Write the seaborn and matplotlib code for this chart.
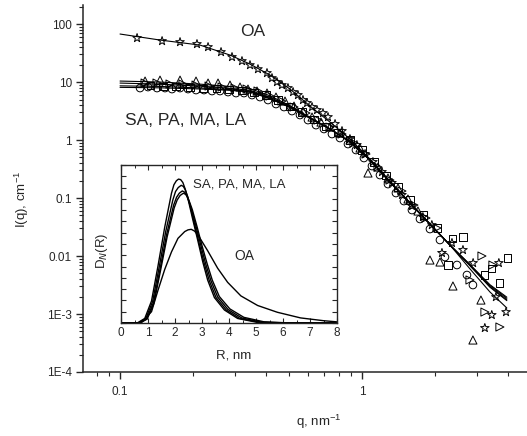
import matplotlib
import matplotlib.pyplot as plt
import seaborn as sns
from matplotlib.ticker import FixedLocator, FixedFormatter, LogLocator, NullFormatter, MultipleLocator

matplotlib.use('Agg')

# --- main panel: fitted curves, I(q) ---
q_fit = [0.1, 0.1463, 0.2141, 0.2848, 0.3445, 0.4168, 0.5041, 0.6098, 0.7376, 0.8922,
         1.079, 1.305, 1.579, 1.910, 2.310, 2.795, 3.380, 3.97]
fit_oa = [67.3, 53.0, 43.4, 29.2, 20.4, 13.2, 7.57, 3.85, 2.04, 1.04,
          0.47, 0.196, 0.082, 0.0356, 0.0155, 0.0060, 0.0024, 0.00127]
fit_sa = [10.4, 10.0, 9.2, 8.4, 7.7, 5.8, 3.9, 2.45, 1.56, 0.92,
          0.45, 0.186, 0.081, 0.035, 0.0154, 0.0071, 0.0032, 0.00195]
fit_pa = [9.6, 9.2, 8.5, 7.8, 7.2, 5.45, 3.78, 2.41, 1.55, 0.925,
          0.452, 0.188, 0.082, 0.0356, 0.0156, 0.0071, 0.0031, 0.00186]
fit_ma = [8.6, 8.4, 7.9, 7.4, 6.9, 5.2, 3.68, 2.39, 1.55, 0.93,
          0.455, 0.19, 0.083, 0.0358, 0.0155, 0.0069, 0.00298, 0.00176]
fit_la = [8.1, 7.95, 7.6, 7.2, 6.75, 5.15, 3.65, 2.38, 1.55, 0.93,
          0.455, 0.19, 0.083, 0.036, 0.0153, 0.0068, 0.0029, 0.0017]

# --- main panel: measured points ---
q_star = [0.1176, 0.1492, 0.177, 0.208, 0.2311, 0.2615, 0.2903, 0.3192, 0.3445, 0.3717,
          0.405, 0.4247, 0.4454, 0.467, 0.4944, 0.519, 0.5439, 0.5704, 0.593, 0.6218,
          0.652, 0.69, 0.7238, 0.774, 0.827, 0.892, 0.953, 1.03, 1.11, 1.21,
          1.33, 1.463, 1.609, 1.786, 1.945, 2.141, 2.355, 2.615, 2.88, 3.22,
          3.44, 3.578, 3.68, 3.94]
i_star = [57.4, 50.9, 48.9, 45.2, 40.1, 32.9, 27.0, 23.0, 19.6, 16.7,
          14.3, 11.7, 10.0, 8.87, 7.88, 6.72, 5.97, 4.90, 4.35, 3.71,
          3.29, 2.92, 2.49, 1.89, 1.43, 1.04, 0.82, 0.574, 0.418, 0.281,
          0.182, 0.113, 0.0728, 0.047, 0.0342, 0.0113, 0.0168, 0.0127, 0.00757, 0.000574,
          0.000961, 0.00196, 0.00757, 0.00108]

q_circle = [0.121, 0.1305, 0.1422, 0.1535, 0.164, 0.177, 0.191, 0.2061, 0.2224, 0.24,
            0.259, 0.2795, 0.3016, 0.3254, 0.3512, 0.3789, 0.4089, 0.4412, 0.4761, 0.5137,
            0.5544, 0.5983, 0.6456, 0.6966, 0.7516, 0.8112, 0.8754, 0.9445, 1.019, 1.1,
            1.187, 1.281, 1.382, 1.491, 1.609, 1.737, 1.91, 2.101, 2.203, 2.47,
            2.716, 2.875]
i_circle = [7.88, 8.20, 7.88, 7.88, 7.57, 7.88, 7.57, 7.28, 7.28, 7.00,
            7.00, 6.72, 6.46, 6.46, 5.97, 5.51, 4.90, 4.18, 3.71, 3.16,
            2.70, 2.21, 1.81, 1.55, 1.27, 1.083, 0.853, 0.673, 0.49, 0.356,
            0.249, 0.174, 0.122, 0.0887, 0.0621, 0.0435, 0.0292, 0.0189, 0.0096, 0.0070,
            0.0047, 0.00316]

q_tri = [0.1269, 0.1463, 0.177, 0.2061, 0.2311, 0.2541, 0.2848, 0.3133, 0.338, 0.3682,
         0.405, 0.4412, 0.4807, 0.5237, 0.5704, 0.6218, 0.677, 0.7376, 0.8112, 0.8922,
         0.9813, 1.059, 1.165, 1.281, 1.409, 1.549, 1.704, 1.91, 2.101, 2.377,
         2.875, 3.103]
i_tri = [10.4, 10.8, 10.8, 10.4, 9.61, 9.61, 8.87, 8.2, 7.57, 7.0,
         6.46, 5.51, 4.70, 3.85, 3.16, 2.49, 2.04, 1.67, 1.32, 1.0,
         0.728, 0.27, 0.342, 0.221, 0.149, 0.0962, 0.0597, 0.00853, 0.00788, 0.00304,
         0.000356, 0.00174]

q_square = [0.1331, 0.1505, 0.1704, 0.1947, 0.2203, 0.2494, 0.2821, 0.3192, 0.3578, 0.4012,
            0.4497, 0.5041, 0.5651, 0.6335, 0.71, 0.7959, 0.8922, 1.0, 1.121, 1.257,
            1.409, 1.579, 1.804, 2.061, 2.377, 2.615, 2.267, 3.223, 3.44, 3.717,
            4.01]
i_square = [8.87, 8.53, 8.53, 8.2, 7.88, 7.88, 7.57, 7.28, 6.72, 5.97,
            4.90, 3.85, 3.04, 2.30, 1.74, 1.37, 1.0, 0.673, 0.418, 0.249,
            0.155, 0.0924, 0.0509, 0.0304, 0.0204, 0.0213, 0.00699, 0.0047, 0.0062, 0.00342,
            0.00924]

q_rtri = [0.1269, 0.1422, 0.1609, 0.1821, 0.2061, 0.2333, 0.264, 0.2987, 0.3349, 0.3717,
          0.4168, 0.467, 0.5237, 0.587, 0.658, 0.7376, 0.827, 0.9267, 1.039, 1.165,
          1.305, 1.463, 1.64, 1.839, 2.042, 2.795, 3.133, 3.477, 3.223, 3.717]
i_rtri = [9.61, 9.61, 9.24, 9.24, 8.87, 8.53, 8.2, 7.88, 7.57, 7.0,
          5.74, 4.70, 3.71, 2.92, 2.21, 1.67, 1.27, 0.888, 0.574, 0.342,
          0.204, 0.132, 0.0757, 0.0452, 0.0304, 0.00386, 0.01, 0.00699, 0.00108, 0.000597]

y_tick_vals = [1e-4, 1e-3, 0.01, 0.1, 1, 10, 100]
y_tick_labels = ["1E-4", "1E-3", "0.01", "0.1", "1", "10", "100"]
x_tick_vals = [0.1, 1]
x_tick_labels = ["0.1", "1"]

# --- inset: size distributions D_N(R) ---
r_sa = [0, 0.6, 0.88, 1.13, 1.37, 1.62, 1.87, 1.96, 2.05, 2.13, 2.21, 2.29, 2.38, 2.48, 2.66,
        2.85, 3.03, 3.21, 3.46, 3.83, 4.32, 5.06, 6.0, 8.0]
dn_sa = [0, 0, 0.008, 0.039, 0.101, 0.170, 0.230, 0.245, 0.252, 0.255, 0.254, 0.249, 0.237, 0.220,
         0.183, 0.145, 0.108, 0.076, 0.045, 0.023, 0.008, 0.001, 0, 0]
r_pa = [0, 0.65, 0.92, 1.17, 1.41, 1.66, 1.92, 2.02, 2.12, 2.23, 2.31, 2.38, 2.47, 2.55, 2.72,
        2.9, 3.08, 3.27, 3.52, 3.9, 4.4, 5.15, 6.1, 8.0]
dn_pa = [0, 0, 0.008, 0.038, 0.098, 0.163, 0.218, 0.233, 0.240, 0.244, 0.242, 0.236, 0.224, 0.210,
         0.176, 0.140, 0.106, 0.075, 0.045, 0.023, 0.008, 0.001, 0, 0]
r_ma = [0, 0.68, 0.95, 1.2, 1.44, 1.69, 1.95, 2.06, 2.16, 2.27, 2.35, 2.42, 2.51, 2.6, 2.78,
        2.96, 3.14, 3.33, 3.58, 3.96, 4.47, 5.2, 6.2, 8.0]
dn_ma = [0, 0, 0.007, 0.036, 0.094, 0.157, 0.209, 0.223, 0.230, 0.234, 0.232, 0.227, 0.216, 0.203,
         0.171, 0.137, 0.104, 0.075, 0.046, 0.024, 0.009, 0.0015, 0, 0]
r_la = [0, 0.7, 0.97, 1.22, 1.46, 1.71, 1.97, 2.08, 2.19, 2.31, 2.39, 2.46, 2.55, 2.64, 2.82,
        3.0, 3.19, 3.38, 3.64, 4.03, 4.55, 5.3, 6.3, 8.0]
dn_la = [0, 0, 0.007, 0.035, 0.092, 0.153, 0.204, 0.218, 0.226, 0.230, 0.228, 0.224, 0.213, 0.201,
         0.170, 0.137, 0.105, 0.076, 0.047, 0.025, 0.010, 0.002, 0, 0]
r_oa = [0, 0.6, 0.76, 1.13, 1.37, 1.62, 1.87, 2.11, 2.36, 2.48, 2.6, 2.72, 2.85, 3.21, 3.58, 3.95,
        4.44, 5.06, 5.79, 6.65, 7.51, 8.0]
dn_oa = [0, 0, 0.001, 0.020, 0.058, 0.095, 0.126, 0.150, 0.162, 0.165, 0.166, 0.163, 0.156, 0.128,
         0.097, 0.072, 0.048, 0.031, 0.019, 0.009, 0.004, 0.002]

sns.set_style("ticks")
plt.rcParams['font.family'] = ['Liberation Sans', 'DejaVu Sans']
plt.rcParams['mathtext.fontset'] = 'custom'
plt.rcParams['mathtext.rm'] = 'Liberation Sans'

fig = plt.figure(figsize=(5.27, 4.36), dpi=100)
ax = fig.add_axes([0.1575, 0.1468, 0.8425, 0.8417])

# fits
for fit in [fit_oa, fit_sa, fit_pa, fit_ma, fit_la]:
    sns.lineplot(x=q_fit, y=fit, color="black", linewidth=0.8, estimator=None, sort=False, ax=ax)

# data points (open symbols)
series = [
    (q_circle, i_circle, "o", 30),
    (q_tri, i_tri, "^", 34),
    (q_square, i_square, "s", 26),
    (q_rtri, i_rtri, ">", 34),
    (q_star, i_star, "*", 42),
]
for qs, ys, mk, size in series:
    sns.scatterplot(x=qs, y=ys, marker=mk, s=size, facecolors="none", edgecolors="black",
                    linewidths=0.7, ax=ax, zorder=3)

ax.set_xscale("log")
ax.set_yscale("log")
ax.set_xlim(0.0703, 4.81)
ax.set_ylim(1e-4, 213)

ax.xaxis.set_major_locator(FixedLocator(x_tick_vals))
ax.xaxis.set_major_formatter(FixedFormatter(x_tick_labels))
ax.xaxis.set_minor_locator(LogLocator(base=10, subs=range(2, 10)))
ax.xaxis.set_minor_formatter(NullFormatter())
ax.yaxis.set_major_locator(FixedLocator(y_tick_vals))
ax.yaxis.set_major_formatter(FixedFormatter(y_tick_labels))
ax.yaxis.set_minor_locator(LogLocator(base=10, subs=range(2, 10), numticks=20))
ax.yaxis.set_minor_formatter(NullFormatter())

ax.tick_params(which="major", direction="out", length=5, width=1, labelsize=8.5, pad=3)
ax.tick_params(which="minor", direction="out", length=3, width=0.8)
ax.tick_params(axis="x", which="major", pad=5)
for side in ["left", "bottom"]:
    ax.spines[side].set_linewidth(1.1)
sns.despine(ax=ax)

ax.set_xlabel("q, nm$^{-1}$", fontsize=9.5)
ax.set_ylabel("I(q), cm$^{-1}$", fontsize=9.5)
ax.xaxis.set_label_coords(0.53, -0.11)
ax.yaxis.set_label_coords(-0.118, 0.47)

ax.text(0.3545, 75.7, "OA", fontsize=12.5, ha="center", va="center")
ax.text(0.1049, 2.21, "SA, PA, MA, LA", fontsize=12.5, ha="left", va="center")

# inset
axi = fig.add_axes([0.2296, 0.2592, 0.4099, 0.3624])
for rr, dd in [(r_sa, dn_sa), (r_pa, dn_pa), (r_ma, dn_ma), (r_la, dn_la), (r_oa, dn_oa)]:
    sns.lineplot(x=rr, y=dd, color="black", linewidth=1.0, estimator=None, sort=False, ax=axi)
axi.set_xlim(0, 8)
axi.set_ylim(0, 0.28)
axi.xaxis.set_major_locator(MultipleLocator(1))
axi.xaxis.set_minor_locator(MultipleLocator(0.5))
axi.yaxis.set_major_locator(MultipleLocator(0.02))
axi.tick_params(which="major", direction="in", length=3.5, width=0.8, labelsize=8.5, pad=3,
                top=True, right=True, labelleft=False)
axi.tick_params(which="minor", direction="in", length=2, width=0.7, top=True, right=True)
for sp in axi.spines.values():
    sp.set_linewidth(1.0)
axi.set_xlabel("R, nm", fontsize=9.5)
axi.set_ylabel("D$_N$(R)", fontsize=9.5)
axi.xaxis.set_label_coords(0.523, -0.17)
axi.yaxis.set_label_coords(-0.05, 0.46)
axi.text(2.67, 0.245, "SA, PA, MA, LA", fontsize=9.5, ha="left", va="center")
axi.text(4.56, 0.119, "OA", fontsize=10, ha="center", va="center")

fig.savefig("out.png", dpi=100)
